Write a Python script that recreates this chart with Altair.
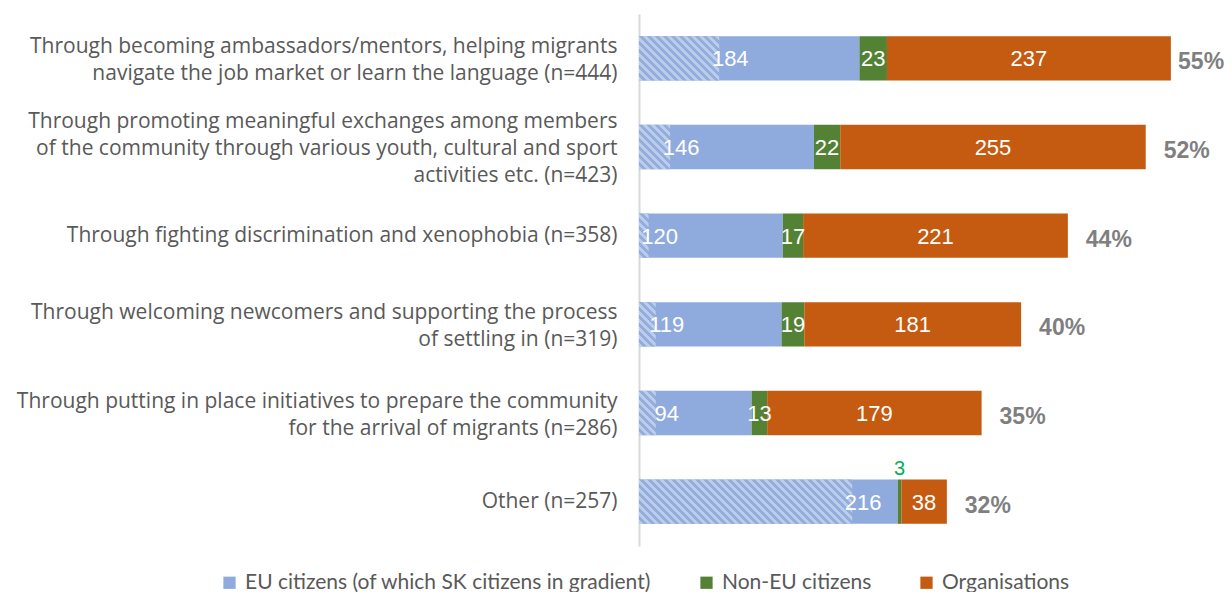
import math
import altair as alt
import pandas as pd

# ---------------- data ----------------
categories = [
    "Through becoming ambassadors/mentors, helping migrants|navigate the job market or learn the language (n=444)",
    "Through promoting meaningful exchanges among members|of the community through various youth, cultural and sport|activities etc. (n=423)",
    "Through fighting discrimination and xenophobia (n=358)",
    "Through welcoming newcomers and supporting the process|of settling in (n=319)",
    "Through putting in place initiatives to prepare the community|for the arrival of migrants (n=286)",
    "Other (n=257)",
]
eu_citizens = [184, 146, 120, 119, 94, 216]
sk_citizens = [67, 26, 8, 14, 14, 178]
non_eu_citizens = [23, 22, 17, 19, 13, 3]
organisations = [237, 255, 221, 181, 179, 38]
share_labels = ["55%", "52%", "44%", "40%", "35%", "32%"]

series_names = ["EU citizens (of which SK citizens in gradient)", "Non-EU citizens", "Organisations"]
series_colors = ["#8FAADC", "#548235", "#C55A11"]

# ---------------- layout ----------------
PLOT_W, PLOT_H = 575, 532
X_MAX = 480
PX_PER_UNIT = PLOT_W / X_MAX
N = len(categories)
STEP = PLOT_H / (N - 0.5 + 0.5)
BAR_H = STEP * 0.5
LINE_H = 27

rows = []
for i, cat in enumerate(categories):
    start = 0
    for s, v in zip(series_names, [eu_citizens[i], non_eu_citizens[i], organisations[i]]):
        rows.append(dict(category=cat, series=s, value=v, start=start, end=start + v, mid=start + v / 2))
        start += v
seg = pd.DataFrame(rows)

tot = pd.DataFrame(dict(
    category=categories,
    eu=eu_citizens,
    sk=sk_citizens,
    total=[e + n + o for e, n, o in zip(eu_citizens, non_eu_citizens, organisations)],
    pct=share_labels,
))

y_enc = alt.Y(
    "category:N",
    sort=categories,
    scale=alt.Scale(paddingInner=0.5, paddingOuter=0.25),
    axis=alt.Axis(
        title=None, ticks=False, grid=False, domain=True, domainColor="#D9D9D9", domainWidth=2,
        labelExpr="split(datum.label, '|')", labelFont="Open Sans", labelFontSize=21,
        labelColor="#595959", labelPadding=22, labelLimit=800, labelLineHeight=LINE_H,
        labelAlign="right", labelBaseline="middle",
        labelOffset=alt.ExprRef(
            expr=f"length(split(datum.value, '|')) > 1 ? 2 - (length(split(datum.value, '|')) - 1) * {LINE_H / 2} : 0"
        ),
    ),
)
x_scale = alt.Scale(domain=[0, X_MAX], nice=False, zero=True)

bars = alt.Chart(seg).mark_bar().encode(
    y=y_enc,
    x=alt.X("start:Q", scale=x_scale, axis=None),
    x2="end:Q",
    color=alt.Color(
        "series:N",
        scale=alt.Scale(domain=series_names, range=series_colors),
        legend=alt.Legend(
            orient="none", legendX=-420, legendY=558, direction="horizontal", title=None,
            symbolType="square", symbolSize=150, symbolStrokeWidth=0, labelOffset=5,
            labelFont="Lato", labelFontSize=21, labelColor="#595959", labelLimit=800,
            columnPadding=44,
        ),
    ),
)

# hatched SK portions (diagonal stripes via per-bar linear gradient)
BASE, LIGHT = "#93ADDD", "#BCCDEB"
PERIOD = 8.0
hatch_layers = []
for i, cat in enumerate(categories):
    w = sk_citizens[i] * PX_PER_UNIT
    h = BAR_H
    t = (w + h) / (w * w + h * h)
    n = (w + h) / PERIOD
    stops = []
    k = 0
    while k < n:
        a = min(k / n, 1.0)
        b = min((k + 0.5) / n, 1.0)
        c = min((k + 1) / n, 1.0)
        stops += [
            alt.GradientStop(offset=a, color=LIGHT),
            alt.GradientStop(offset=b, color=LIGHT),
            alt.GradientStop(offset=b, color=BASE),
            alt.GradientStop(offset=c, color=BASE),
        ]
        k += 1
    grad = alt.LinearGradient(gradient="linear", stops=stops, x1=0, y1=1, x2=t * w, y2=1 - t * h)
    hatch_layers.append(
        alt.Chart(tot).transform_filter(alt.FieldEqualPredicate(field="category", equal=cat))
        .mark_bar(fill=grad)
        .encode(y=y_enc, x=alt.X("sk:Q", scale=x_scale, axis=None), x2=alt.datum(0))
    )

eu_text = alt.Chart(tot).mark_text(
    font="Liberation Sans", fontSize=22, color="white", align="center", baseline="middle", dx=11, dy=1
).encode(y=y_enc, x=alt.X("sk:Q", scale=x_scale, axis=None), text="eu:Q")

seg_text = alt.Chart(seg).transform_filter(
    (alt.datum.series != series_names[0]) & (alt.datum.value >= 5)
).mark_text(
    font="Liberation Sans", fontSize=22, color="white", align="center", baseline="middle", dy=1
).encode(y=y_enc, x=alt.X("mid:Q", scale=x_scale, axis=None), text="value:Q")

small_text = alt.Chart(seg).transform_filter(
    (alt.datum.series == series_names[1]) & (alt.datum.value < 5)
).mark_text(
    font="Liberation Sans", fontSize=20, color="#00B050", align="center", baseline="middle", dy=-33
).encode(y=y_enc, x=alt.X("mid:Q", scale=x_scale, axis=None), text="value:Q")

pct_text = alt.Chart(tot).transform_calculate(
    pos="min(datum.total + 15, 450)"
).mark_text(
    font="Liberation Sans", fontSize=23, fontWeight="bold", color="#7F7F7F",
    align="left", baseline="middle", dy=4
).encode(y=y_enc, x=alt.X("pos:Q", scale=x_scale, axis=None), text="pct:N")

chart = alt.layer(bars, *hatch_layers, eu_text, seg_text, small_text, pct_text).properties(
    width=PLOT_W,
    height=PLOT_H,
    autosize=alt.AutoSizeParams(type="none"),
    padding={"left": 631, "top": 6, "right": 10, "bottom": 46},
).configure_view(stroke=None)

chart.save("out.html", embed_options={"renderer": "svg", "actions": False})
